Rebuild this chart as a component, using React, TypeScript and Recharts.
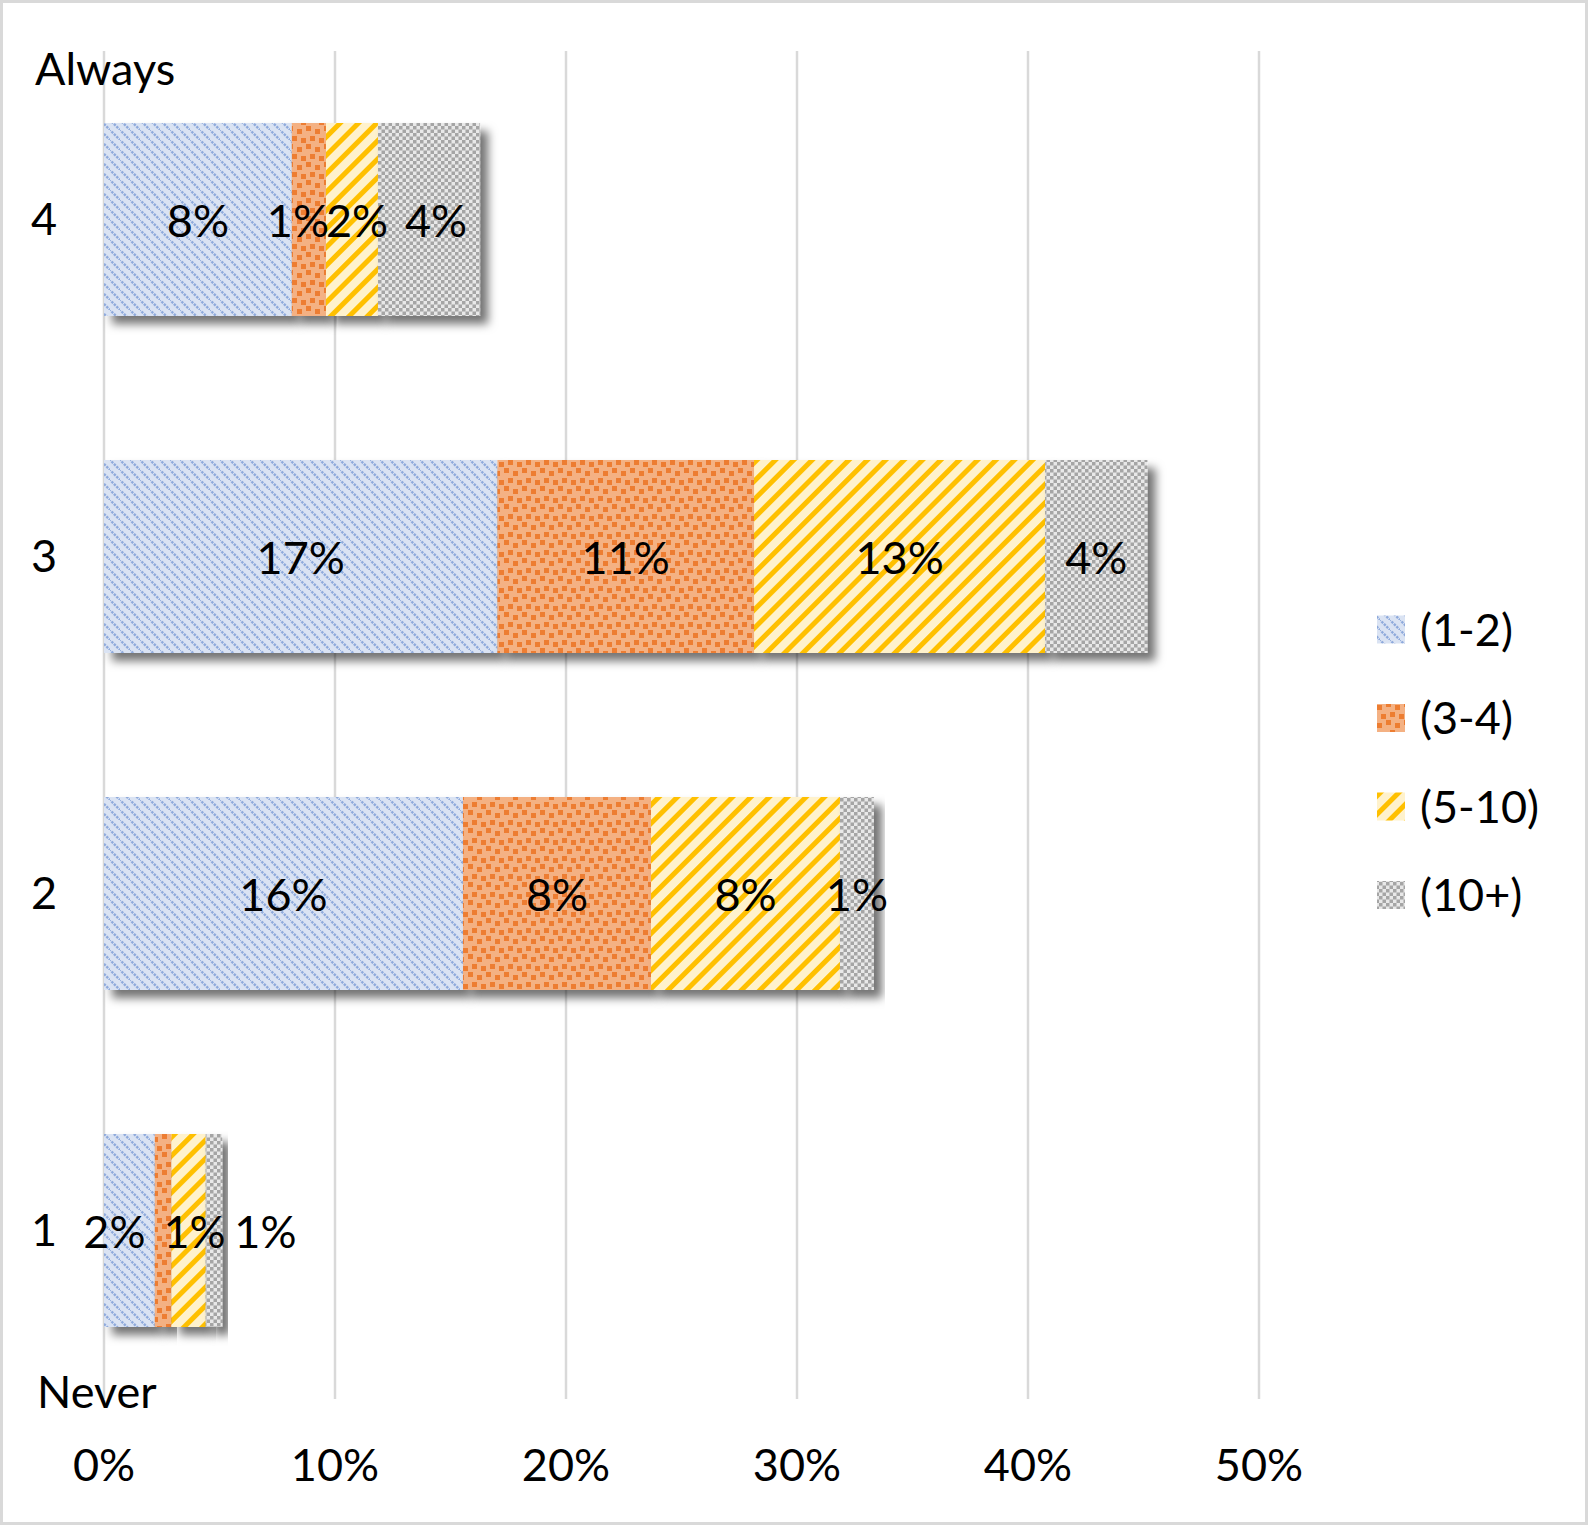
import React from 'react';
import {
  BarChart,
  Bar,
  XAxis,
  YAxis,
  CartesianGrid,
  LabelList,
} from 'recharts';

// levels top to bottom, as in the original
const levels = ['4', '3', '2', '1'];
const seriesNames = ['(1-2)', '(3-4)', '(5-10)', '(10+)'];

// share of answers in %, one array per group
const oneTwo = [8.13, 17.03, 15.54, 2.2];
const threeFour = [1.48, 11.11, 8.14, 0.72];
const fiveTen = [2.25, 12.6, 8.18, 1.48];
const tenPlus = [4.42, 4.43, 1.47, 0.72];

const xTicks = [0, 10, 20, 30, 40, 50];

const data = levels.map((level, i) => ({
  level,
  '(1-2)': oneTwo[i],
  '(3-4)': threeFour[i],
  '(5-10)': fiveTen[i],
  '(10+)': tenPlus[i],
}));

const patternIds: Record<string, string> = {
  '(1-2)': 'pat12',
  '(3-4)': 'pat34',
  '(5-10)': 'pat510',
  '(10+)': 'pat10p',
};

// labels that were dropped / nudged in the source chart
const hiddenLabels: Record<string, string[]> = { '1': ['(3-4)'] };
const outsideLabels: Record<string, string[]> = { '1': ['(10+)'] };
const labelNudge: Record<string, Record<string, number>> = {
  '4': { '(3-4)': -11, '(5-10)': 5, '(10+)': 7 },
  '1': { '(1-2)': -15, '(5-10)': 6 },
};

const FONT = 'Lato, "Noto Sans", sans-serif';
const FS = 45;

const Patterns = () => (
  <svg width={0} height={0} style={{ position: 'absolute' }}>
    <defs>
      <pattern id="pat12" width={10} height={10} patternUnits="userSpaceOnUse">
        <rect width={10} height={10} fill="#dae3f3" />
        <path d="M-1,-1 L11,11" stroke="#8faadc" strokeWidth={2.4} strokeDasharray="2.4 1.1" />
      </pattern>
      <pattern id="pat34" width={18} height={18} patternUnits="userSpaceOnUse">
        <rect width={18} height={18} fill="#f4b183" />
        <rect x={0} y={0} width={5} height={5} fill="#ed7d31" />
        <rect x={9} y={3} width={5} height={5} fill="#ed7d31" />
        <rect x={4} y={10} width={5} height={5} fill="#ed7d31" />
        <rect x={13} y={12} width={5} height={5} fill="#ed7d31" />
      </pattern>
      <pattern
        id="pat510"
        width={13}
        height={13}
        patternUnits="userSpaceOnUse"
        patternTransform="rotate(45)"
      >
        <rect width={13} height={13} fill="#fff2cc" />
        <rect x={0} y={0} width={5} height={13} fill="#ffc000" />
      </pattern>
      <pattern id="pat10p" width={7} height={7} patternUnits="userSpaceOnUse">
        <rect width={7} height={7} fill="#e8e8e8" />
        <rect x={0} y={0} width={3.5} height={3.5} fill="#a5a5a5" />
        <rect x={3.5} y={3.5} width={3.5} height={3.5} fill="#a5a5a5" />
      </pattern>
      <filter id="barShadow" x="-20%" y="-20%" width="150%" height="150%">
        <feDropShadow dx={8} dy={8} stdDeviation={5} floodColor="#000" floodOpacity={0.55} />
      </filter>
    </defs>
  </svg>
);

const PatternBar = (props: any) => {
  const { x, y, width, height, fill } = props;
  if (!width || width <= 0) return null;
  return <rect x={x} y={y} width={width} height={height} fill={fill} filter="url(#barShadow)" />;
};

const makeLabel = (series: string) => (props: any) => {
  const { x, y, width, height, value, index } = props;
  const level = levels[index];
  if (hiddenLabels[level]?.includes(series)) return null;
  const outside = outsideLabels[level]?.includes(series);
  const nudge = labelNudge[level]?.[series] ?? 0;
  const tx = outside ? x + width + 12 : x + width / 2 + nudge;
  return (
    <text
      x={tx}
      y={y + height / 2}
      textAnchor={outside ? 'start' : 'middle'}
      dominantBaseline="central"
      fill="#000"
      fontSize={FS}
      fontFamily={FONT}
    >
      {Math.round(Number(value))}%
    </text>
  );
};

export default function App() {
  return (
    <div
      style={{
        position: 'absolute',
        left: 0,
        top: 0,
        width: 1588,
        height: 1525,
        background: '#fff',
        fontFamily: FONT,
      }}
    >
      <Patterns />
      <BarChart
        width={1588}
        height={1525}
        data={data}
        layout="vertical"
        margin={{ top: 51, right: 329, bottom: 0, left: 0 }}
      >
        <CartesianGrid horizontal={false} stroke="#d9d9d9" strokeWidth={2.5} />
        <XAxis
          type="number"
          domain={[0, 50]}
          ticks={xTicks}
          tickFormatter={(v) => `${v}%`}
          axisLine={false}
          tickLine={false}
          tickSize={0}
          tickMargin={50}
          height={126}
          tick={{ fill: '#000', fontSize: FS, fontFamily: FONT }}
        />
        <YAxis
          type="category"
          dataKey="level"
          width={104}
          axisLine={false}
          tickLine={false}
          tickSize={0}
          tickMargin={47}
          tick={{ fill: '#000', fontSize: FS, fontFamily: FONT }}
        />
        {seriesNames.map((name) => (
          <Bar
            key={name}
            dataKey={name}
            stackId="a"
            barSize={193}
            fill={`url(#${patternIds[name]})`}
            shape={<PatternBar />}
            isAnimationActive={false}
          >
            <LabelList dataKey={name} content={makeLabel(name)} />
          </Bar>
        ))}
      </BarChart>
      <svg
        width={1588}
        height={1525}
        style={{ position: 'absolute', left: 0, top: 0, pointerEvents: 'none' }}
      >
        <text x={35} y={85} fontSize={FS} fontFamily={FONT} fill="#000">
          Always
        </text>
        <text x={37} y={1408} fontSize={FS} fontFamily={FONT} fill="#000">
          Never
        </text>
        {seriesNames.map((name, i) => {
          const cy = 629.5 + i * 88.5;
          return (
            <g key={name}>
              <rect x={1377} y={cy - 14} width={28} height={28} fill={`url(#${patternIds[name]})`} />
              <text x={1420} y={cy + 16} fontSize={FS} fontFamily={FONT} fill="#000">
                {name}
              </text>
            </g>
          );
        })}
      </svg>
      <div
        style={{
          position: 'absolute',
          left: 0,
          top: 0,
          width: 1588,
          height: 1525,
          boxSizing: 'border-box',
          border: '3px solid #d9d9d9',
          pointerEvents: 'none',
        }}
      />
    </div>
  );
}
